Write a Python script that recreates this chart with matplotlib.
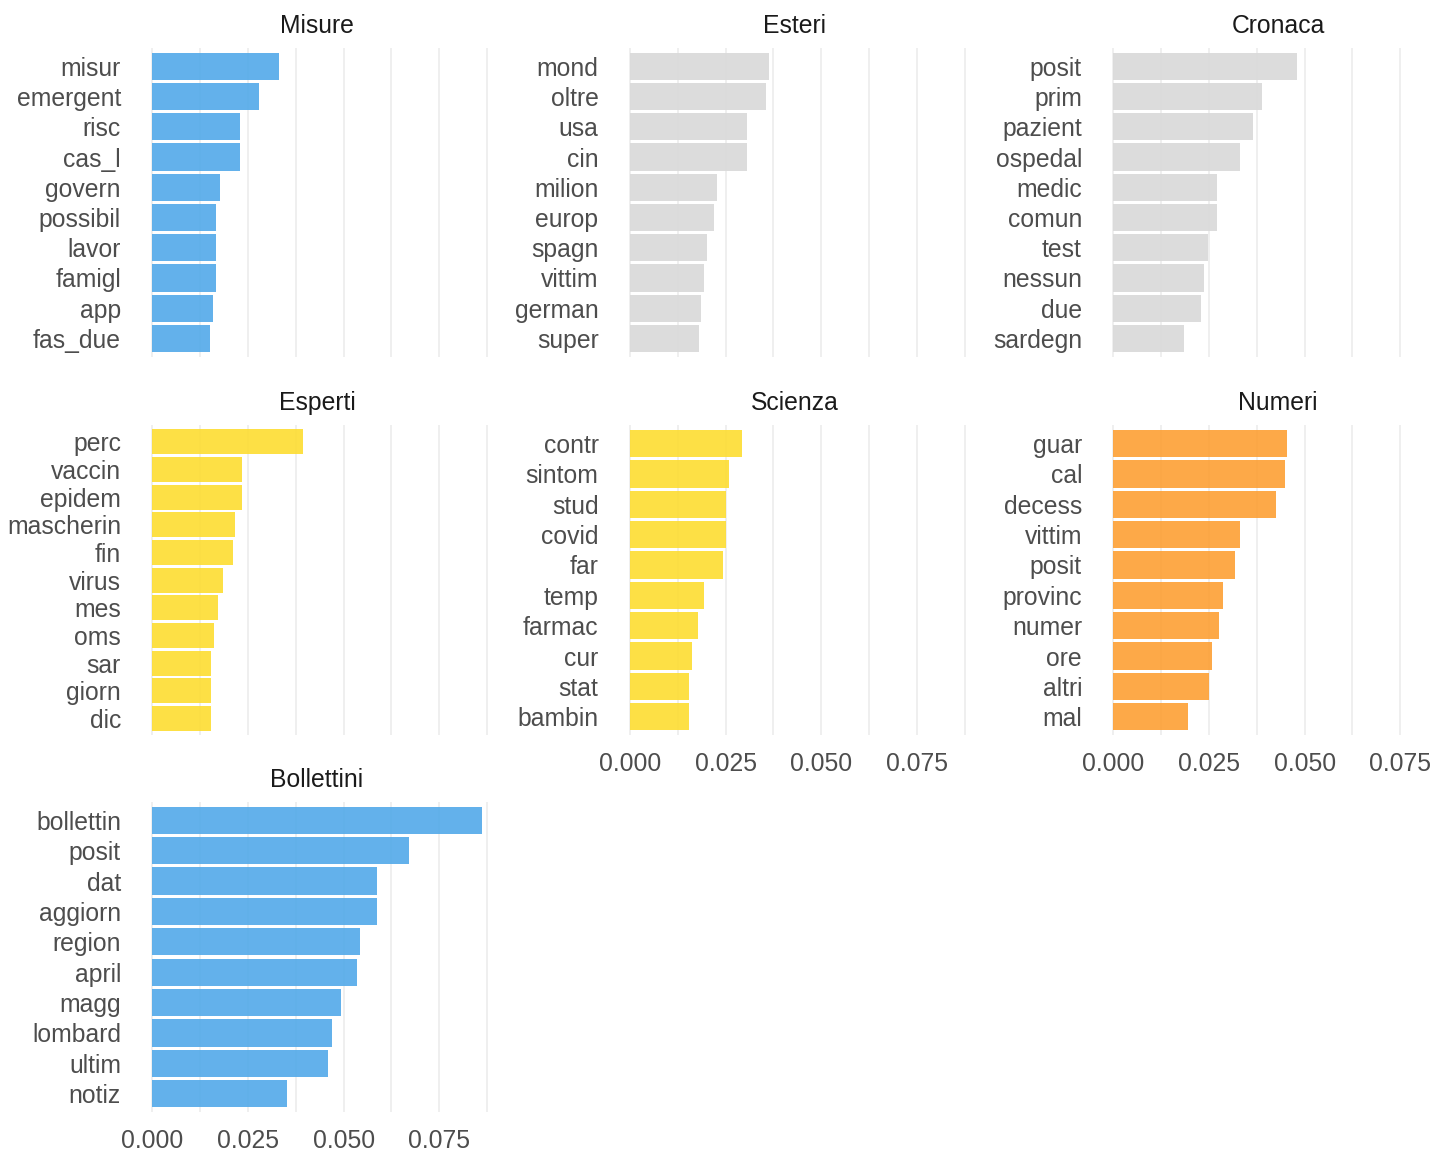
import numpy as np
import matplotlib
matplotlib.use("Agg")
import matplotlib.pyplot as plt

plt.rcParams['font.family'] = ['Liberation Sans', 'DejaVu Sans']

# word weights per topic (top bar first)
misure_words = ["misur", "emergent", "risc", "cas_l", "govern", "possibil", "lavor", "famigl", "app", "fas_due"]
misure_vals = [0.0332, 0.0280, 0.0229, 0.0229, 0.0176, 0.0167, 0.0167, 0.0167, 0.0159, 0.0150]

esteri_words = ["mond", "oltre", "usa", "cin", "milion", "europ", "spagn", "vittim", "german", "super"]
esteri_vals = [0.0364, 0.0356, 0.0307, 0.0307, 0.0228, 0.0220, 0.0202, 0.0193, 0.0185, 0.0180]

cronaca_words = ["posit", "prim", "pazient", "ospedal", "medic", "comun", "test", "nessun", "due", "sardegn"]
cronaca_vals = [0.0479, 0.0388, 0.0364, 0.0330, 0.0271, 0.0272, 0.0248, 0.0236, 0.0228, 0.0184]

esperti_words = ["perc", "vaccin", "epidem", "mascherin", "fin", "virus", "mes", "oms", "sar", "giorn", "dic"]
esperti_vals = [0.0393, 0.0235, 0.0235, 0.0217, 0.0212, 0.0185, 0.0171, 0.0162, 0.0153, 0.0153, 0.0153]

scienza_words = ["contr", "sintom", "stud", "covid", "far", "temp", "farmac", "cur", "stat", "bambin"]
scienza_vals = [0.0292, 0.0258, 0.0252, 0.0252, 0.0243, 0.0194, 0.0177, 0.0161, 0.0153, 0.0153]

numeri_words = ["guar", "cal", "decess", "vittim", "posit", "provinc", "numer", "ore", "altri", "mal"]
numeri_vals = [0.0453, 0.0448, 0.0424, 0.0330, 0.0318, 0.0286, 0.0275, 0.0257, 0.0251, 0.0196]

bollettini_words = ["bollettin", "posit", "dat", "aggiorn", "region", "april", "magg", "lombard", "ultim", "notiz"]
bollettini_vals = [0.0861, 0.0670, 0.0587, 0.0587, 0.0543, 0.0534, 0.0494, 0.0469, 0.0460, 0.0353]

BLUE = "#52A9E9"
GREY = "#D9D9D9"
YELLOW = "#FDDD31"
ORANGE = "#FDA034"

# (title, words, values, colour, row, col, show x labels)
panels = [
    ("Misure", misure_words, misure_vals, BLUE, 0, 0, False),
    ("Esteri", esteri_words, esteri_vals, GREY, 0, 1, False),
    ("Cronaca", cronaca_words, cronaca_vals, GREY, 0, 2, False),
    ("Esperti", esperti_words, esperti_vals, YELLOW, 1, 0, False),
    ("Scienza", scienza_words, scienza_vals, YELLOW, 1, 1, True),
    ("Numeri", numeri_words, numeri_vals, ORANGE, 1, 2, True),
    ("Bollettini", bollettini_words, bollettini_vals, BLUE, 2, 0, True),
]

W, H = 1435, 1151
fig = plt.figure(figsize=(W / 100, H / 100), dpi=100)

# panel edges in pixels
col_px = [(136, 498), (613.6, 975.7), (1097, 1459)]
row_px = [(48.2, 356.5), (425.3, 735), (802.1, 1111.9)]

xmax = max(max(p[2]) for p in panels)

for title, words, vals, color, r, c, xlab in panels:
    x0, x1 = col_px[c]
    y0, y1 = row_px[r]
    ax = fig.add_axes([x0 / W, 1 - y1 / H, (x1 - x0) / W, (y1 - y0) / H])
    n = len(words)
    ax.barh(words[::-1], vals[::-1], height=0.9, color=color, alpha=0.9, zorder=2)
    ax.set_ylim(-0.6, n - 0.4)
    ax.set_xlim(-0.05 * xmax, 1.05 * xmax)
    ax.set_xticks([0, 0.025, 0.05, 0.075])
    ax.set_xticklabels(["0.000", "0.025", "0.050", "0.075"])
    ax.set_xticks([0.0125, 0.0375, 0.0625, 0.0875], minor=True)
    ax.grid(axis='x', which='both', color='#EBEBEB', lw=1.1, zorder=0)
    ax.set_axisbelow(True)
    for s in ax.spines.values():
        s.set_visible(False)
    ax.tick_params(axis='both', which='both', length=0, colors='#4D4D4D', labelsize=17.8)
    ax.tick_params(axis='y', pad=10.8)
    ax.tick_params(axis='x', pad=12)
    if not xlab:
        ax.tick_params(axis='x', labelbottom=False)
    ax.annotate(title, xy=(0.5, 1), xycoords='axes fraction', xytext=(0, 10.8),
                textcoords='offset points', ha='center', va='baseline',
                fontsize=17.8, color='#1A1A1A')

fig.savefig("out.png", dpi=100)
